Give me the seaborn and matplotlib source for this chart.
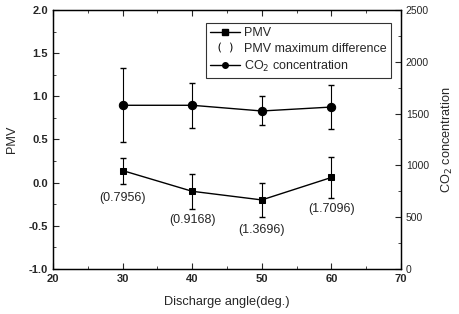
import numpy as np
import pandas as pd
import seaborn as sns
import matplotlib.pyplot as plt
from matplotlib.lines import Line2D

# values
angle = [30, 40, 50, 60]
pmv = [0.14, -0.10, -0.20, 0.06]
pmv_err = [0.15, 0.20, 0.20, 0.24]
pmv_maxdiff = ['(0.7956)', '(0.9168)', '(1.3696)', '(1.7096)']
label_y = [-0.18, -0.43, -0.55, -0.31]
co2 = [1580, 1580, 1525, 1563]
co2_err = [355, 215, 140, 210]

sns.set_theme(style='ticks')
plt.rcParams['font.family'] = ['Liberation Sans', 'DejaVu Sans']
plt.rcParams['xtick.direction'] = 'in'
plt.rcParams['ytick.direction'] = 'in'

df = pd.DataFrame({'angle': angle, 'pmv': pmv, 'co2': co2})

fig = plt.figure(figsize=(4.59, 3.14), dpi=100)
ax = fig.add_axes([0.1155, 0.1433, 0.758, 0.825])
ax2 = ax.twinx()

sns.lineplot(x='angle', y='pmv', data=df, ax=ax, color='black', marker='s',
             markersize=5, lw=1, markeredgecolor='black', legend=False)
ax.errorbar(angle, pmv, yerr=pmv_err, fmt='none', ecolor='black', elinewidth=0.8, capsize=2.2)
for x, y, t in zip(angle, label_y, pmv_maxdiff):
    ax.text(x, y, t, ha='center', va='center', fontsize=9)

sns.lineplot(x='angle', y='co2', data=df, ax=ax2, color='black', marker='o',
             markersize=6, lw=1, markeredgecolor='black', legend=False)
ax2.errorbar(angle, co2, yerr=co2_err, fmt='none', ecolor='black', elinewidth=0.8, capsize=2.2)

ax.set_xlim(20, 70)
ax.set_ylim(-1.0, 2.0)
ax.set_xticks(np.arange(20, 71, 10))
ax.set_xticks(np.arange(20, 71, 5), minor=True)
ax.set_yticks(np.arange(-1.0, 2.01, 0.5))
ax.set_yticks(np.arange(-1.0, 2.01, 0.25), minor=True)
ax.set_yticklabels(['%.1f' % v for v in np.arange(-1.0, 2.01, 0.5)])
ax2.set_ylim(0, 2500)
ax2.set_yticks(np.arange(0, 2501, 500))
ax2.set_yticks(np.arange(0, 2501, 250), minor=True)

ax.tick_params(axis='both', which='major', labelsize=8, length=4, width=0.8, top=True)
ax.tick_params(axis='both', which='minor', length=2, width=0.6, top=True)
ax2.tick_params(axis='y', which='major', labelsize=7.5, length=4, width=0.8)
ax2.tick_params(axis='y', which='minor', length=2, width=0.6)
for lab in ax.get_xticklabels() + ax.get_yticklabels():
    lab.set_fontweight('bold')
for a in (ax, ax2):
    for s in a.spines.values():
        s.set_linewidth(0.9)
        s.set_color('black')

ax.set_xlabel('Discharge angle(deg.)', fontsize=9.2, labelpad=9)
ax.set_ylabel('PMV', fontsize=9.2, labelpad=8)
ax2.set_ylabel('CO$_2$ concentration', fontsize=9.2, labelpad=8)

h_pmv = Line2D([], [], color='black', marker='s', markersize=4, lw=1)
h_par = Line2D([], [], color='black', marker='$(\\ \\ )$', markersize=10, markerfacecolor='black',
               markeredgewidth=0, lw=0)
h_co2 = Line2D([], [], color='black', marker='o', markersize=4, lw=1)
leg = ax.legend([h_pmv, h_par, h_co2], ['PMV', 'PMV maximum difference', 'CO$_2$ concentration'],
                loc='upper right', fontsize=9, frameon=True, fancybox=False, edgecolor='black',
                handlelength=2.4, handletextpad=0.3, borderpad=0.35, labelspacing=0.3,
                bbox_to_anchor=(0.99, 0.975))
leg.get_frame().set_linewidth(0.8)

plt.savefig('out.png', dpi=100)
